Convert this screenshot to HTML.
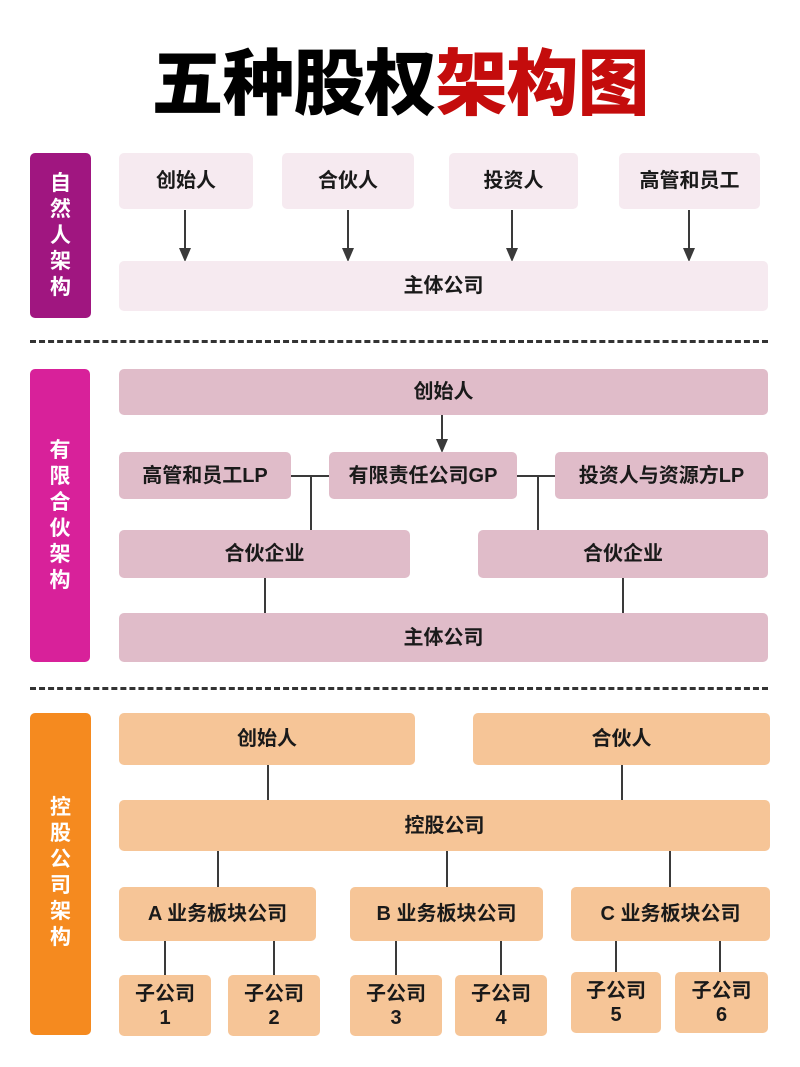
<!DOCTYPE html>
<html><head><meta charset="utf-8"><style>
body{margin:0;width:800px;height:1067px;background:#fff;position:relative;overflow:hidden;font-family:"Liberation Sans","Noto Sans CJK SC",sans-serif;}
.b{position:absolute;display:flex;align-items:center;justify-content:center;border-radius:5px;font-weight:bold;font-size:20px;color:#1a1a1a;text-align:center;line-height:1.2;}
.p1{background:#f6eaf0}
.p2{background:#e0bcc9}
.o{background:#f6c597}
.side{position:absolute;border-radius:5px;color:#fff;font-weight:bold;font-size:21px;display:flex;flex-direction:column;align-items:center;justify-content:center;line-height:26px;}
.v{position:absolute;width:2px;background:#3a3a3a}
.h{position:absolute;height:2px;background:#3a3a3a}
.ar{position:absolute;width:0;height:0;border-left:6px solid transparent;border-right:6px solid transparent;border-top:14px solid #3a3a3a}
.d{position:absolute;left:30px;width:738px;height:0;border-top:3px dashed #333}
</style></head><body>
<div style="position:absolute;left:0;top:40px;width:800px;text-align:center;font-size:72px;font-weight:900;line-height:90px;letter-spacing:-1px;"><span style="color:#000">五种股权</span><span style="color:#c40c0c">架构图</span></div>

<div class="side" style="left:30px;top:153px;width:61px;height:165px;background:#a01680">自<br>然<br>人<br>架<br>构</div>
<div class="b p1" style="left:119px;top:153px;width:134px;height:56px">创始人</div>
<div class="b p1" style="left:282px;top:153px;width:132px;height:56px">合伙人</div>
<div class="b p1" style="left:449px;top:153px;width:129px;height:56px">投资人</div>
<div class="b p1" style="left:619px;top:153px;width:141px;height:56px">高管和员工</div>
<div class="v" style="left:184px;top:210px;height:38px"></div><div class="ar" style="left:179px;top:248px"></div>
<div class="v" style="left:347px;top:210px;height:38px"></div><div class="ar" style="left:342px;top:248px"></div>
<div class="v" style="left:511px;top:210px;height:38px"></div><div class="ar" style="left:506px;top:248px"></div>
<div class="v" style="left:688px;top:210px;height:38px"></div><div class="ar" style="left:683px;top:248px"></div>
<div class="b p1" style="left:119px;top:261px;width:649px;height:50px">主体公司</div>

<div class="d" style="top:340px"></div>

<div class="side" style="left:30px;top:369px;width:60px;height:293px;background:#d8219a">有<br>限<br>合<br>伙<br>架<br>构</div>
<div class="b p2" style="left:119px;top:369px;width:649px;height:46px">创始人</div>
<div class="v" style="left:441px;top:415px;height:24px"></div><div class="ar" style="left:436px;top:439px"></div>
<div class="b p2" style="left:119px;top:452px;width:172px;height:47px">高管和员工LP</div>
<div class="b p2" style="left:329px;top:452px;width:188px;height:47px">有限责任公司GP</div>
<div class="b p2" style="left:555px;top:452px;width:213px;height:47px">投资人与资源方LP</div>
<div class="h" style="left:291px;top:475px;width:38px"></div>
<div class="h" style="left:517px;top:475px;width:38px"></div>
<div class="v" style="left:310px;top:476px;height:54px"></div>
<div class="v" style="left:537px;top:476px;height:54px"></div>
<div class="b p2" style="left:119px;top:530px;width:291px;height:48px">合伙企业</div>
<div class="b p2" style="left:478px;top:530px;width:290px;height:48px">合伙企业</div>
<div class="v" style="left:264px;top:578px;height:35px"></div>
<div class="v" style="left:622px;top:578px;height:35px"></div>
<div class="b p2" style="left:119px;top:613px;width:649px;height:49px">主体公司</div>

<div class="d" style="top:687px"></div>

<div class="side" style="left:30px;top:713px;width:61px;height:322px;background:#f58a1f;justify-content:flex-start;padding-top:82px;box-sizing:border-box">控<br>股<br>公<br>司<br>架<br>构</div>
<div class="b o" style="left:119px;top:713px;width:296px;height:52px">创始人</div>
<div class="b o" style="left:473px;top:713px;width:297px;height:52px">合伙人</div>
<div class="v" style="left:267px;top:765px;height:35px"></div>
<div class="v" style="left:621px;top:765px;height:35px"></div>
<div class="b o" style="left:119px;top:800px;width:651px;height:51px">控股公司</div>
<div class="v" style="left:217px;top:851px;height:36px"></div>
<div class="v" style="left:446px;top:851px;height:36px"></div>
<div class="v" style="left:669px;top:851px;height:36px"></div>
<div class="b o" style="left:119px;top:887px;width:197px;height:54px">A 业务板块公司</div>
<div class="b o" style="left:350px;top:887px;width:193px;height:54px">B 业务板块公司</div>
<div class="b o" style="left:571px;top:887px;width:199px;height:54px">C 业务板块公司</div>
<div class="v" style="left:164px;top:941px;height:34px"></div>
<div class="v" style="left:273px;top:941px;height:34px"></div>
<div class="v" style="left:395px;top:941px;height:34px"></div>
<div class="v" style="left:500px;top:941px;height:34px"></div>
<div class="v" style="left:615px;top:941px;height:34px"></div>
<div class="v" style="left:719px;top:941px;height:34px"></div>
<div class="b o" style="left:119px;top:975px;width:92px;height:61px">子公司<br>1</div>
<div class="b o" style="left:228px;top:975px;width:92px;height:61px">子公司<br>2</div>
<div class="b o" style="left:350px;top:975px;width:92px;height:61px">子公司<br>3</div>
<div class="b o" style="left:455px;top:975px;width:92px;height:61px">子公司<br>4</div>
<div class="b o" style="left:571px;top:972px;width:90px;height:61px">子公司<br>5</div>
<div class="b o" style="left:675px;top:972px;width:93px;height:61px">子公司<br>6</div>
</body></html>
